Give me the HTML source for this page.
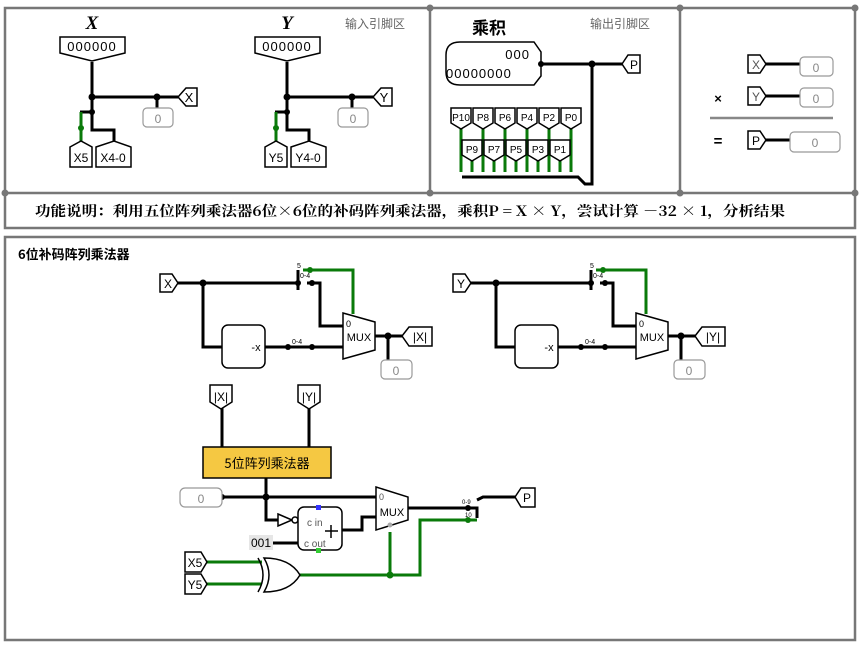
<!DOCTYPE html>
<html><head><meta charset="utf-8"><style>
body{margin:0;background:#fff}
svg{display:block}
text{font-family:"Liberation Sans","Noto Sans CJK SC",sans-serif}
.w{stroke:#000;stroke-width:3;fill:none}
.g{stroke:#0a7a0a;stroke-width:3;fill:none}
.b{stroke:#000;stroke-width:1.5;fill:#fff}
.c{stroke:#999;stroke-width:1.2;fill:#fff}
</style></head><body>
<svg width="865" height="645" viewBox="0 0 865 645" xmlns="http://www.w3.org/2000/svg">
<g stroke="#777" stroke-width="2.5" fill="none">
<rect x="5" y="8" width="850" height="220"/>
<line x1="5" y1="193" x2="855" y2="193"/>
<line x1="430" y1="8" x2="430" y2="193"/>
<line x1="680" y1="8" x2="680" y2="193"/>
<rect x="5" y="237" width="850" height="403"/>
</g>
<g fill="#777"><circle cx="5" cy="193" r="3.5"/><circle cx="430" cy="193" r="3.5"/><circle cx="680" cy="193" r="3.5"/><circle cx="855" cy="193" r="3.5"/><circle cx="430" cy="8" r="3.5"/><circle cx="680" cy="8" r="3.5"/><circle cx="855" cy="8" r="3.5"/></g>

<g>
<text x="92" y="29" font-style="italic" font-weight="bold" font-size="19" text-anchor="middle" style="font-family:'Liberation Serif'">X</text>
<path class="b" d="M60 37H125V53L92 61L60 53Z"/>
<text x="92" y="51" font-size="13" text-anchor="middle" letter-spacing="1">000000</text>
<path class="w" d="M92 62V130H114V142M92 97H178M157 97V108M80 112H92"/>
<path class="g" d="M81 112V142"/>
<circle cx="92" cy="97" r="3.5"/><circle cx="157" cy="97" r="3.5"/><circle cx="92" cy="112" r="3"/><circle cx="81" cy="128" r="3" fill="#0a7a0a"/>
<path class="b" d="M178 97L186 88H197V106H186Z"/><text x="189" y="102" font-size="13" text-anchor="middle">X</text>
<rect class="c" x="143" y="108" width="30" height="19" rx="4"/><text x="158" y="123" font-size="12" fill="#888" text-anchor="middle">0</text>
<path class="b" d="M70 147L81 141L92 147V167H70Z"/><text x="81" y="162" font-size="12" text-anchor="middle">X5</text>
<path class="b" d="M96 147L114 141L131 147V167H96Z"/><text x="113" y="162" font-size="12" text-anchor="middle">X4-0</text>
</g>
<g transform="translate(195,0)">
<text x="92" y="29" font-style="italic" font-weight="bold" font-size="19" text-anchor="middle" style="font-family:'Liberation Serif'">Y</text>
<path class="b" d="M60 37H125V53L92 61L60 53Z"/>
<text x="92" y="51" font-size="13" text-anchor="middle" letter-spacing="1">000000</text>
<path class="w" d="M92 62V130H114V142M92 97H178M157 97V108M80 112H92"/>
<path class="g" d="M81 112V142"/>
<circle cx="92" cy="97" r="3.5"/><circle cx="157" cy="97" r="3.5"/><circle cx="92" cy="112" r="3"/><circle cx="81" cy="128" r="3" fill="#0a7a0a"/>
<path class="b" d="M178 97L186 88H197V106H186Z"/><text x="189" y="102" font-size="13" text-anchor="middle">Y</text>
<rect class="c" x="143" y="108" width="30" height="19" rx="4"/><text x="158" y="123" font-size="12" fill="#888" text-anchor="middle">0</text>
<path class="b" d="M70 147L81 141L92 147V167H70Z"/><text x="81" y="162" font-size="12" text-anchor="middle">Y5</text>
<path class="b" d="M96 147L114 141L131 147V167H96Z"/><text x="113" y="162" font-size="12" text-anchor="middle">Y4-0</text>
</g>
<text x="345" y="28" font-size="12" fill="#666">输入引脚区</text>

<text x="472" y="34" font-size="17" font-weight="bold" style="font-family:'Noto Sans CJK SC'">乘积</text>
<text x="590" y="28" font-size="12" fill="#666">输出引脚区</text>
<path class="b" d="M460 42H534L541 52V76L534 85H460Q446 85 446 72V55Q446 42 460 42Z"/>
<text x="530" y="59" font-size="13" text-anchor="end" letter-spacing="1">000</text>
<text x="446" y="78" font-size="13" letter-spacing="1">00000000</text>
<path class="w" d="M541 64H622M592 64V184H585L578 177H462"/>
<circle cx="592" cy="64" r="3.5"/><circle cx="541" cy="64" r="3"/>
<path class="b" d="M622 64L628 55H640V73H628Z"/><text x="634" y="69" font-size="12" text-anchor="middle">P</text>
<g class="g">
<path d="M461 128V172M483 128V172M505 128V172M527 128V172M549 128V172M571 128V172"/>
<path d="M472 160V172M494 160V172M516 160V172M538 160V172M560 160V172"/>
</g>
<g font-size="10" text-anchor="middle">
<path class="b" d="M451 108H471V123L461 129L451 123Z"/><text x="461" y="121">P10</text>
<path class="b" d="M473 108H493V123L483 129L473 123Z"/><text x="483" y="121">P8</text>
<path class="b" d="M495 108H515V123L505 129L495 123Z"/><text x="505" y="121">P6</text>
<path class="b" d="M517 108H537V123L527 129L517 123Z"/><text x="527" y="121">P4</text>
<path class="b" d="M539 108H559V123L549 129L539 123Z"/><text x="549" y="121">P2</text>
<path class="b" d="M561 108H581V123L571 129L561 123Z"/><text x="571" y="121">P0</text>
<path class="b" d="M462 140H482V155L472 161L462 155Z"/><text x="472" y="153">P9</text>
<path class="b" d="M484 140H504V155L494 161L484 155Z"/><text x="494" y="153">P7</text>
<path class="b" d="M506 140H526V155L516 161L506 155Z"/><text x="516" y="153">P5</text>
<path class="b" d="M528 140H548V155L538 161L528 155Z"/><text x="538" y="153">P3</text>
<path class="b" d="M550 140H570V155L560 161L550 155Z"/><text x="560" y="153">P1</text>
</g>

<path class="w" d="M765 64H800M765 96H800M765 140H790"/>
<path class="b" d="M748 55H760L766 64L760 73H748Z"/><text x="756" y="69" font-size="12" fill="#555" text-anchor="middle">X</text>
<path class="b" d="M748 87H760L766 96L760 105H748Z"/><text x="756" y="101" font-size="12" fill="#555" text-anchor="middle">Y</text>
<path class="b" d="M748 131H760L766 140L760 149H748Z"/><text x="756" y="145" font-size="12" text-anchor="middle">P</text>
<rect class="c" x="800" y="57" width="33" height="19" rx="4"/><text x="816" y="72" font-size="12" fill="#888" text-anchor="middle">0</text>
<rect class="c" x="800" y="88" width="33" height="19" rx="4"/><text x="816" y="103" font-size="12" fill="#888" text-anchor="middle">0</text>
<rect class="c" x="790" y="132" width="50" height="20" rx="4"/><text x="815" y="147" font-size="12" fill="#888" text-anchor="middle">0</text>
<text x="718" y="103" font-size="13" font-weight="bold" text-anchor="middle">×</text>
<line x1="710" y1="118" x2="833" y2="118" stroke="#888" stroke-width="2.5"/>
<text x="718" y="146" font-size="15" font-weight="bold" text-anchor="middle">=</text>

<text x="35" y="216" font-size="14" font-weight="bold" textLength="750" lengthAdjust="spacingAndGlyphs" style="font-family:'Noto Serif CJK SC','Liberation Sans',serif">功能说明：利用五位阵列乘法器6位×6位的补码阵列乘法器，乘积P = X × Y，尝试计算 －32 × 1，分析结果</text>

<text x="18" y="259" font-size="13" font-weight="bold" style="font-family:'Noto Sans CJK SC'">6位补码阵列乘法器</text>

<g>
<path class="w" d="M178 283H298M203 283V347H222M265 347H343M307 283H320V326H343M298 270V290M375 336H402M388 336V360"/>
<path class="g" d="M303 270H353V314"/>
<circle cx="203" cy="283" r="3.5"/><circle cx="298" cy="283" r="3"/><circle cx="388" cy="336" r="3.5"/><circle cx="288" cy="347" r="3"/><circle cx="312" cy="347" r="3"/><circle cx="312" cy="283" r="3"/><circle cx="310" cy="270" r="3" fill="#0a7a0a"/>
<text x="297" y="268" font-size="7">5</text><text x="300" y="278" font-size="7">0-4</text><text x="292" y="344" font-size="7">0-4</text>
<path class="b" d="M160 274H172L178 283L172 292H160Z"/><text x="168" y="288" font-size="12" text-anchor="middle">X</text>
<rect class="b" x="222" y="325" width="43" height="43" rx="6"/><text x="256" y="351" font-size="11" text-anchor="middle">-x</text>
<path class="b" d="M343 313L375 322V350L343 359Z"/><text x="359" y="341" font-size="11" text-anchor="middle">MUX</text><text x="346" y="327" font-size="9">0</text>
<path class="b" d="M402 336L409 327H432V346H409Z"/><text x="420" y="341" font-size="12" text-anchor="middle">|X|</text>
<rect class="c" x="381" y="360" width="31" height="19" rx="4"/><text x="396" y="375" font-size="12" fill="#888" text-anchor="middle">0</text>
</g>
<g transform="translate(293,0)">
<path class="w" d="M178 283H298M203 283V347H222M265 347H343M307 283H320V326H343M298 270V290M375 336H402M388 336V360"/>
<path class="g" d="M303 270H353V314"/>
<circle cx="203" cy="283" r="3.5"/><circle cx="298" cy="283" r="3"/><circle cx="388" cy="336" r="3.5"/><circle cx="288" cy="347" r="3"/><circle cx="312" cy="347" r="3"/><circle cx="312" cy="283" r="3"/><circle cx="310" cy="270" r="3" fill="#0a7a0a"/>
<text x="297" y="268" font-size="7">5</text><text x="300" y="278" font-size="7">0-4</text><text x="292" y="344" font-size="7">0-4</text>
<path class="b" d="M160 274H172L178 283L172 292H160Z"/><text x="168" y="288" font-size="12" text-anchor="middle">Y</text>
<rect class="b" x="222" y="325" width="43" height="43" rx="6"/><text x="256" y="351" font-size="11" text-anchor="middle">-x</text>
<path class="b" d="M343 313L375 322V350L343 359Z"/><text x="359" y="341" font-size="11" text-anchor="middle">MUX</text><text x="346" y="327" font-size="9">0</text>
<path class="b" d="M402 336L409 327H432V346H409Z"/><text x="420" y="341" font-size="12" text-anchor="middle">|Y|</text>
<rect class="c" x="381" y="360" width="31" height="19" rx="4"/><text x="396" y="375" font-size="12" fill="#888" text-anchor="middle">0</text>
</g>

<path class="w" d="M222 405V447M309 405V447M266 478V520H278M222 497H376M342 530H362V517H376M273 543H298M408 508H477V518M477 500L483 497H515"/>
<path class="g" d="M207 562H262M207 584H262M300 575H420V520H477M390 532V575"/>
<circle cx="266" cy="497" r="3.5"/><circle cx="222" cy="497" r="3"/><circle cx="390" cy="575" r="3.5" fill="#0a7a0a"/><circle cx="468" cy="508" r="3"/><circle cx="468" cy="520" r="3" fill="#0a7a0a"/>
<path class="b" d="M210 385H232V402L221 409L210 402Z"/><text x="221" y="401" font-size="12" text-anchor="middle">|X|</text>
<path class="b" d="M298 385H320V402L309 409L298 402Z"/><text x="309" y="401" font-size="12" text-anchor="middle">|Y|</text>
<rect x="203" y="447" width="128" height="31" fill="#f5c842" stroke="#000" stroke-width="1.5"/>
<text x="267" y="468" font-size="13" text-anchor="middle" style="font-family:'Noto Sans CJK SC'">5位阵列乘法器</text>
<rect class="c" x="180" y="488" width="42" height="19" rx="5"/><text x="201" y="503" font-size="12" fill="#888" text-anchor="middle">0</text>
<path class="b" d="M278 514L292 520L278 526Z"/><circle cx="295" cy="520" r="3" class="b"/>
<rect class="b" x="298" y="507" width="44" height="43" rx="6"/>
<rect x="316" y="505" width="5" height="5" fill="#33f"/><rect x="316" y="548" width="5" height="5" fill="#3c3"/>
<text x="307" y="526" font-size="10" fill="#555">c in</text><text x="304" y="547" font-size="10" fill="#555">c out</text>
<path d="M325 531H338M331 525V538" stroke="#000" stroke-width="1.5"/>
<rect x="249" y="535" width="24" height="15" fill="#e6e6e6"/><text x="261" y="547" font-size="12" text-anchor="middle">001</text>
<path class="b" d="M376 487L408 497V520L376 530Z"/><text x="392" y="516" font-size="11" text-anchor="middle">MUX</text><text x="379" y="500" font-size="9" fill="#555">0</text>
<circle cx="390" cy="525" r="2.5" fill="#aaa"/>
<text x="462" y="504" font-size="6">0-9</text><text x="465" y="517" font-size="6">10</text>
<path class="b" d="M515 497L521 488H535V507H521Z"/><text x="527" y="502" font-size="12" text-anchor="middle">P</text>
<path class="b" d="M185 552H201L207 562L201 572H185Z"/><text x="195" y="567" font-size="12" text-anchor="middle">X5</text>
<path class="b" d="M185 574H201L207 584L201 594H185Z"/><text x="195" y="589" font-size="12" text-anchor="middle">Y5</text>
<path d="M258 558Q268 575 258 592" stroke="#000" stroke-width="1.5" fill="none"/>
<path class="b" d="M264 558Q290 558 300 575Q290 592 264 592Q274 575 264 558Z"/>
</svg>
</body></html>
